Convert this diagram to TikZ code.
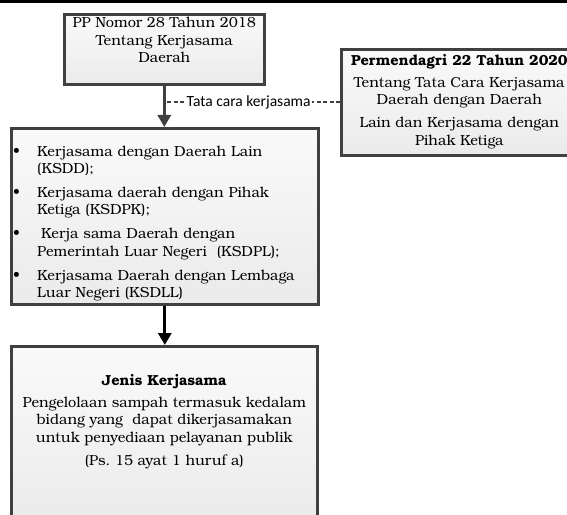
\documentclass[tikz,border=0pt]{standalone}
\usepackage{fontspec}
\setmainfont{TeX Gyre Bonum}
\newfontfamily\labelfont{Carlito}
\usepackage{tikz}
\usetikzlibrary{positioning,shadows,arrows.meta}

\definecolor{garis}{HTML}{404040}
\newcommand\butir[1]{\par\noindent\hangindent=24bp\hangafter=1\makebox[24bp][l]{\textbullet}#1}

\begin{document}
\begin{tikzpicture}[x = 1bp, y = -1bp,
every node/.style = {font = \fontsize{14.6}{17.5}\selectfont}]

\tikzset{
	kotak/.style = {
		draw = garis, line width = 2.6bp, anchor = north west, inner sep = 0pt,
		top color = black!2, bottom color = black!8,
		drop shadow = {shadow xshift = 1.8bp, shadow yshift = -1.8bp, fill = black!40, opacity = 0.6}
	},
	teks/.style = {
		align = center, inner sep = 0pt
	},
	panah/.style = {
		line width = 3bp, -{Triangle[width = 13bp, length = 12bp]}
	},
	putus/.style = {
		draw = garis, line width = 2.4bp, dash pattern = on 4bp off 2.5bp
	}
}

\useasboundingbox (0,0) rectangle (567,515);
\fill (0,0) rectangle (567,3); % garis atas

% Kotak-kotak
\node[kotak, minimum width = 200bp, minimum height = 70bp] (PP) at (63,13) {};
\node[kotak, minimum width = 236bp, minimum height = 106bp] (PM) at (340,48) {};
\node[kotak, minimum width = 307bp, minimum height = 176bp] (KS) at (10,127) {};
\node[kotak, minimum width = 306bp, minimum height = 180bp] (JK) at (10,345) {}; % terpotong di bawah

% Teks
\node[teks, below = 4bp of PP.north] (PPteks) {PP Nomor 28 Tahun 2018\\Tentang Kerjasama\\Daerah};
\node[teks, below = 6bp of PM.north] (PMteks) {\textbf{Permendagri 22 Tahun 2020}\\[4.5bp]
	Tentang Tata Cara Kerjasama\\Daerah dengan Daerah\\[5.5bp]
	Lain dan Kerjasama dengan\\Pihak Ketiga};
\node[inner sep = 0pt, text width = 310bp, align = left,
	below right = 5bp and 3bp of KS.north west] (KSteks) {\setlength\parskip{6.5bp}%
	\butir{Kerjasama dengan Daerah Lain\newline (KSDD);}
	\butir{Kerjasama daerah dengan Pihak\newline Ketiga (KSDPK);}
	\butir{\hspace{4bp}Kerja sama Daerah dengan\newline Pemerintah Luar Negeri~ (KSDPL);}
	\butir{Kerjasama Daerah dengan Lembaga\newline Luar Negeri (KSDLL)}\par};
\node[teks, below = 29bp of JK.north] (JKteks) {\textbf{Jenis Kerjasama}\\[4.5bp]
	Pengelolaan sampah termasuk kedalam\\bidang yang~ dapat dikerjasamakan\\untuk penyediaan pelayanan publik\\[5.5bp]
	(Ps.\ 15 ayat 1 huruf a)};

% Penghubung
\draw[putus] (PM.west) -- node[pos = 0.52, fill = white, inner sep = 1bp,
	font = \labelfont\fontsize{15.6}{18}\selectfont] (tatacara) {Tata cara kerjasama} (PM.west -| PP.south);
\draw[panah, garis] (PP.south) -- (PP.south |- KS.north);
\draw[panah, black] (KS.south) -- (KS.south |- JK.north);
\end{tikzpicture}
\end{document}
